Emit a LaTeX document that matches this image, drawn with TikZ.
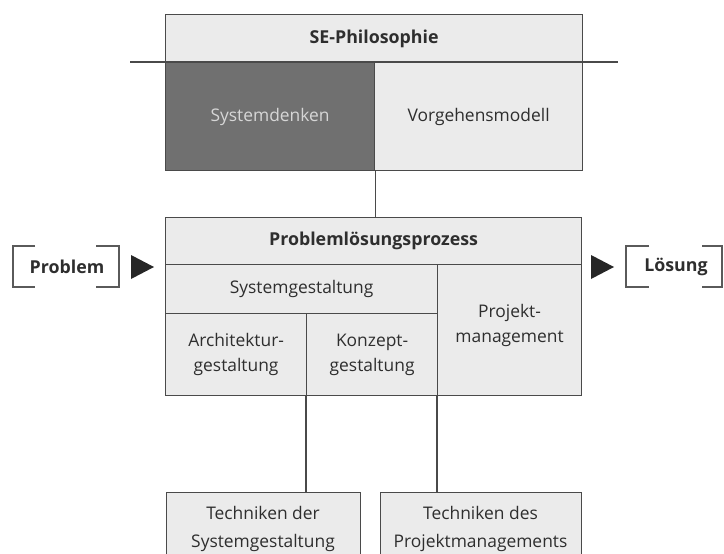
\documentclass[tikz,border=0pt]{standalone}
\usepackage{fontspec}
\setmainfont{Open Sans}
\begin{document}
\begin{tikzpicture}[x=1pt,y=-1pt,
  every node/.style={font=\fontsize{17.4}{25}\selectfont, text=txt},
  cell/.style={draw=edge, line width=1.2pt, fill=pale, inner sep=0pt,
    anchor=north west, align=center},
  darkcell/.style={cell, fill=shade, text=shadetxt},
  heading/.style={font=\fontsize{17.8}{25}\selectfont\bfseries},
  label/.style={align=center},
  widelabel/.style={align=center, font=\fontsize{17.4}{28}\selectfont},
  link/.style={draw=edge, line width=1.2pt},
  bracket/.style={draw=brk, line width=1.4pt},
  pointer/.style={fill=black!85, draw=none}]
\definecolor{pale}{HTML}{EBEBEB}
\definecolor{shade}{HTML}{707070}
\definecolor{shadetxt}{HTML}{D6D6D6}
\definecolor{edge}{HTML}{4A4A4A}
\definecolor{txt}{HTML}{2E2E2E}
\definecolor{brk}{HTML}{5A5A5A}
\useasboundingbox (0,0) rectangle (724,554);
\clip (0,0) rectangle (724,554);

% SE philosophy block
\node[cell, heading, minimum width=417pt, minimum height=48pt] (sep) at (165,14) {SE-Philosophie};
\node[darkcell, minimum width=209pt, minimum height=108pt] (sd) at (165,62) {Systemdenken};
\node[cell, minimum width=208pt, minimum height=108pt] (vm) at (374,62) {Vorgehensmodell};
\coordinate (hl) at (130,62);
\coordinate (hr) at (618,62);
\draw[link] (hl) -- (hr);

% problem solving process block
\node[cell, heading, minimum width=416pt, minimum height=47pt] (plp) at (165,217) {Problemlösungsprozess};
\node[cell, minimum width=272pt, minimum height=49pt] (sg) at (165,264) {Systemgestaltung};
\node[cell, minimum width=141pt, minimum height=82pt] (ag) at (165,313) {};
\node[label] (agt) at (ag.center) {Architektur-\\gestaltung};
\node[cell, minimum width=131pt, minimum height=82pt] (kg) at (306,313) {};
\node[label] (kgt) at (kg.center) {Konzept-\\gestaltung};
\node[cell, minimum width=144pt, minimum height=131pt] (pm) at (437,264) {};
\node[label] (pmt) at ([yshift=4.5pt]pm.center) {Projekt-\\management};

% technique boxes
\node[cell, minimum width=194pt, minimum height=80pt] (tsg) at (166,492) {};
\node[widelabel] (tsgt) at (263,529) {Techniken der\\Systemgestaltung};
\node[cell, minimum width=201pt, minimum height=80pt] (tpm) at (380,492) {};
\node[widelabel] (tpmt) at (480.5,529) {Techniken des\\Projektmanagements};

% connectors
\draw[link] (sd.south east) -- (sd.south east |- plp.north);
\draw[link] (kg.south west) -- (kg.south west |- tsg.north);
\draw[link] (pm.south west) -- (pm.south west |- tpm.north);

% input and output
\node[heading] (prob) at (67,267) {Problem};
\draw[bracket] (35,246) -- (13,246) -- (13,287) -- (35,287);
\draw[bracket] (96,246) -- (119,246) -- (119,287) -- (96,287);
\coordinate (pin) at (131,267);
\fill[pointer] (pin) ++(0,-12) -- ++(23,12) -- ++(-23,12) -- cycle;

\node[heading] (sol) at (676,267) {Lösung};
\draw[bracket] (649,246) -- (626,246) -- (626,287) -- (649,287);
\draw[bracket] (702,246) -- (722,246) -- (722,287) -- (702,287);
\coordinate (pout) at (591,267);
\fill[pointer] (pout) ++(0,-12) -- ++(23,12) -- ++(-23,12) -- cycle;
\end{tikzpicture}
\end{document}
